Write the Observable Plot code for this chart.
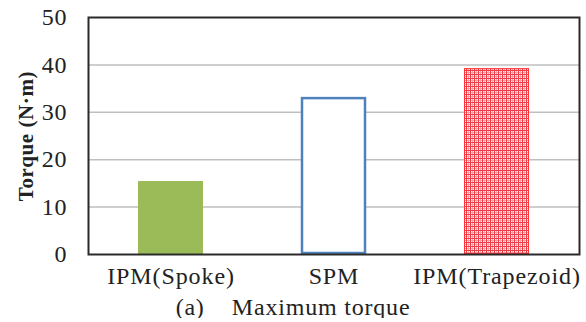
<!DOCTYPE html>
<html>
<head>
<meta charset="utf-8">
<script src="https://cdn.jsdelivr.net/npm/d3@7"></script>
<script src="https://cdn.jsdelivr.net/npm/@observablehq/plot@0.6"></script>
<style>
  html, body { margin: 0; padding: 0; background: #fff; }
  #chart { width: 586px; height: 296px; }
  #caption { width: 586px; text-align: center; font-family: "Liberation Serif", "Times New Roman", serif; font-size: 24px; letter-spacing: 0.8px; color: #222; line-height: 22px; white-space: pre; padding-left: 0; }
  svg, svg text { font-family: "Liberation Serif", "Times New Roman", serif !important; }
  g[aria-label="x-axis tick label"] text, g[aria-label="y-axis tick label"] text { letter-spacing: 0.9px; }
  g[aria-label="y-axis label"] text { font-weight: bold; font-size: 21px; letter-spacing: 0.6px; }
</style>
</head>
<body>
<div id="chart"></div>
<div id="caption"></div>
<script>
const categories = ["IPM(Spoke)", "SPM", "IPM(Trapezoid)"];
const torque = [15.4, 33.1, 39.2];
const yTicks = [0, 10, 20, 30, 40, 50];
const yLabel = "Torque (N·m)";
const captionText = "(a)    Maximum torque";

const data = categories.map((c, i) => ({category: c, torque: torque[i]}));

const plot = Plot.plot({
  width: 586,
  height: 296,
  marginLeft: 88,
  marginRight: 7,
  marginTop: 17,
  marginBottom: 42,
  style: {fontSize: "24px", color: "#222", background: "#fff"},
  x: {domain: categories, paddingInner: 0.6, paddingOuter: 0.3, label: null},
  y: {domain: [0, 50], ticks: yTicks, label: yLabel},
  color: {domain: categories, range: ["#9bbb59", "#ffffff", "url(#hatch)"]},
  marks: [
    Plot.gridY(yTicks.filter(t => t > 0 && t < 50), {stroke: "#bfbfbf", strokeOpacity: 1, strokeWidth: 1.5}),
    Plot.barY(data, {x: "category", y: "torque", fill: "category"}),
    Plot.barY(data.filter(d => d.category === "SPM"), {x: "category", y: "torque", fill: "none", stroke: "#4f81bd", strokeWidth: 2.5, inset: 1}),
    Plot.barY(data.filter(d => d.category === "IPM(Trapezoid)"), {x: "category", y: "torque", fill: "none", stroke: "#ff3333", strokeWidth: 1, inset: 0.5}),
    Plot.axisX({tickSize: 0, tickPadding: 12, fontSize: 24}),
    Plot.axisY({ticks: yTicks, tickSize: 0, tickPadding: 21, fontSize: 24, label: yLabel, labelAnchor: "center", labelArrow: "none", labelOffset: 70}),
    Plot.frame({stroke: "#2a2a2a", strokeWidth: 2})
  ]
});

// hatch pattern definition for the crosshatched bar
const ns = "http://www.w3.org/2000/svg";
const defs = document.createElementNS(ns, "defs");
defs.innerHTML = `
  <pattern id="hatch" patternUnits="userSpaceOnUse" width="4" height="4">
    <rect width="4" height="4" fill="#fff"/>
    <rect x="0" y="0" width="4" height="1" fill="#f7a0a6"/>
    <rect x="0" y="0" width="1" height="4" fill="#f7a0a6"/>
    <rect x="0" y="2" width="4" height="1" fill="#ee3b45"/>
    <rect x="2" y="0" width="1" height="4" fill="#ee3b45"/>
  </pattern>`;
plot.insertBefore(defs, plot.firstChild);

document.getElementById("chart").appendChild(plot);
document.getElementById("caption").textContent = captionText;
</script>
</body>
</html>
